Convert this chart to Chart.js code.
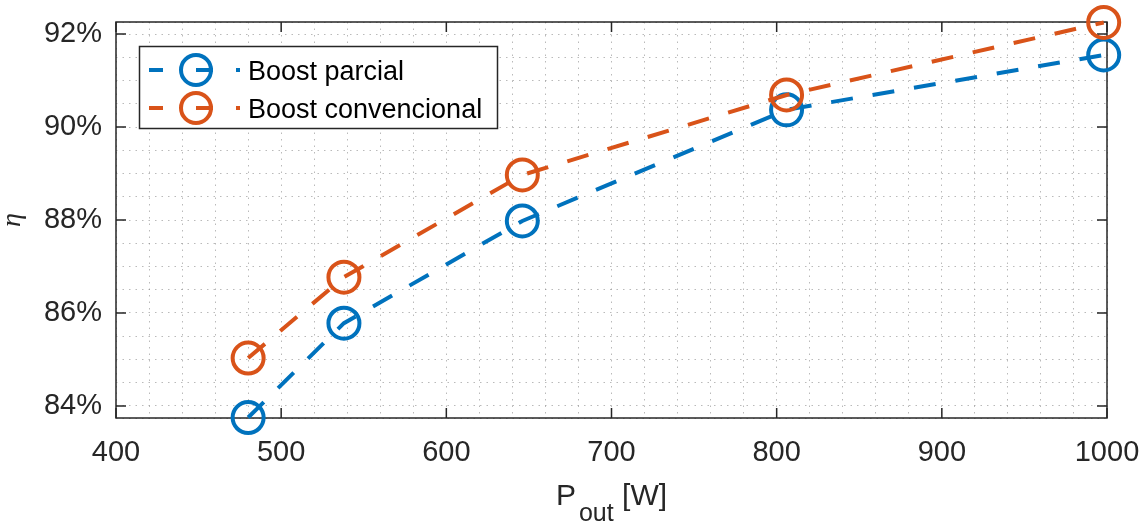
<!DOCTYPE html>
<html><head><meta charset="utf-8">
<script src="https://cdn.jsdelivr.net/npm/chart.js@4/dist/chart.umd.min.js"></script>
<style>html,body{margin:0;padding:0;background:#fff;overflow:hidden}#wrap{width:1141px;height:523px}</style>
</head><body><div id="wrap"><canvas id="c" width="1141" height="523"></canvas></div>
<script>
// ---- data ----
const pOut = [480, 538, 646, 806, 998];
const etaParcial = [83.75, 85.78, 87.98, 90.37, 91.55];
const etaConvencional = [85.03, 86.77, 88.97, 90.69, 92.25];
const seriesNames = ['Boost parcial', 'Boost convencional'];
const seriesColors = ['#0072BD', '#D95319'];
const xTickLabels = [400, 500, 600, 700, 800, 900, 1000];
const yTickLabels = [84, 86, 88, 90, 92];
const xTitleParts = ['P', 'out', '[W]'];
const yTitle = 'η';

const FONT = '"Liberation Sans", Arial, Helvetica, sans-serif';
const TXT = '#262626';
const Y_MIN = 83.74, Y_MAX = 92.26;

function mkData(ys) { return pOut.map((x, i) => ({x: x, y: ys[i]})); }
function near(v, list) { return list.some(t => Math.abs(t - v) < 1e-6); }

// minor grid positions (every 0.5 %)
const yGrid = [Y_MIN];
for (let k = 0; k <= 16; k++) yGrid.push(84 + k * 0.5);
yGrid.push(Y_MAX);

function dsOpts(label, data, color, order) {
  return {
    label: label, data: mkData(data), order: order,
    borderColor: color, borderWidth: 4, borderDash: [22, 20], borderCapStyle: 'butt',
    pointStyle: 'circle', pointRadius: 15.5, pointHoverRadius: 15.5,
    pointBorderColor: color, pointBorderWidth: 4, pointBackgroundColor: 'rgba(0,0,0,0)',
    fill: false, tension: 0, clip: false
  };
}

const decor = {
  id: 'decor',
  beforeDatasetsDraw(chart) {
    const {ctx, chartArea: a, scales: {x, y}} = chart;
    ctx.save();
    ctx.strokeStyle = TXT; ctx.lineWidth = 1.5; ctx.setLineDash([]);
    ctx.beginPath();
    xTickLabels.forEach(v => {
      const px = x.getPixelForValue(v);
      ctx.moveTo(px, a.bottom); ctx.lineTo(px, a.bottom - 10);
      ctx.moveTo(px, a.top); ctx.lineTo(px, a.top + 10);
    });
    yTickLabels.forEach(v => {
      const py = y.getPixelForValue(v);
      ctx.moveTo(a.left, py); ctx.lineTo(a.left + 10, py);
      ctx.moveTo(a.right, py); ctx.lineTo(a.right - 10, py);
    });
    ctx.stroke();
    ctx.strokeRect(a.left, a.top, a.right - a.left, a.bottom - a.top);
    ctx.restore();
  },
  afterDraw(chart) {
    const {ctx, chartArea: a} = chart;
    ctx.save();
    // legend
    const lx = 139.5, ly = 46.5, lw = 358, lh = 82;
    ctx.fillStyle = '#fff'; ctx.fillRect(lx, ly, lw, lh);
    ctx.strokeStyle = TXT; ctx.lineWidth = 1.5; ctx.strokeRect(lx, ly, lw, lh);
    const rows = [70, 108];
    chart.data.datasets.forEach((ds, i) => {
      const cy = rows[i];
      const col = ds.borderColor;
      ctx.strokeStyle = col; ctx.lineWidth = 4; ctx.lineCap = 'butt';
      ctx.beginPath();
      ctx.moveTo(149, cy); ctx.lineTo(163, cy);
      ctx.moveTo(196, cy); ctx.lineTo(213, cy);
      ctx.moveTo(236, cy); ctx.lineTo(240, cy);
      ctx.stroke();
      ctx.beginPath(); ctx.arc(196, cy, 15, 0, Math.PI * 2); ctx.stroke();
      ctx.fillStyle = '#000'; ctx.font = '27px ' + FONT;
      ctx.textAlign = 'left'; ctx.textBaseline = 'alphabetic';
      ctx.fillText(ds.label, 248, cy + 9.5);
    });
    // x title with subscript
    ctx.fillStyle = TXT; ctx.textAlign = 'left'; ctx.textBaseline = 'alphabetic';
    const big = '30px ' + FONT, small = '25px ' + FONT;
    ctx.font = big; const wP = ctx.measureText(xTitleParts[0]).width;
    const wSp = ctx.measureText(' ').width; const wW = ctx.measureText(xTitleParts[2]).width;
    ctx.font = small; const wO = ctx.measureText(xTitleParts[1]).width;
    const total = wP + 3 + wO + wSp + wW;
    let sx = (a.left + a.right) / 2 - total / 2;
    ctx.font = big; ctx.fillText(xTitleParts[0], sx, 505);
    sx += wP + 3;
    ctx.font = small; ctx.fillText(xTitleParts[1], sx, 521);
    sx += wO + wSp;
    ctx.font = big; ctx.fillText(xTitleParts[2], sx, 505);
    // y title
    ctx.translate(13, (a.top + a.bottom) / 2);
    ctx.rotate(-Math.PI / 2);
    ctx.font = 'italic 28px "Liberation Serif", "DejaVu Serif", serif';
    ctx.textAlign = 'center'; ctx.textBaseline = 'middle';
    ctx.fillText(yTitle, 0, 0);
    ctx.restore();
  }
};

const gridCol = 'rgba(140,140,140,0.6)';
new Chart(document.getElementById('c'), {
  type: 'line',
  data: {
    datasets: [
      dsOpts(seriesNames[0], etaParcial, seriesColors[0], 1),
      dsOpts(seriesNames[1], etaConvencional, seriesColors[1], 0)
    ]
  },
  options: {
    responsive: false, animation: false, devicePixelRatio: 1, events: [],
    layout: {padding: {top: 22, right: 34, left: 0, bottom: 0}},
    plugins: {legend: {display: false}, tooltip: {enabled: false}, title: {display: false}},
    scales: {
      x: {
        type: 'linear', min: 400, max: 1000,
        afterFit(s) { s.height = 105; s.paddingLeft = 0; s.paddingRight = 0; },
        ticks: {
          stepSize: 20, autoSkip: false, maxRotation: 0, padding: 18,
          color: TXT, font: {family: FONT, size: 29},
          callback: v => near(v, xTickLabels) ? String(v) : ''
        },
        grid: {color: gridCol, lineWidth: 1, drawTicks: false},
        border: {display: false, dash: [1.5, 5]}
      },
      y: {
        type: 'linear', min: Y_MIN, max: Y_MAX,
        afterBuildTicks(s) { s.ticks = yGrid.map(v => ({value: v})); },
        afterFit(s) { s.width = 116; s.paddingTop = 0; s.paddingBottom = 0; },
        ticks: {
          autoSkip: false, padding: 14,
          color: TXT, font: {family: FONT, size: 29},
          callback: v => near(v, yTickLabels) ? Math.round(v) + '%' : ''
        },
        grid: {color: gridCol, lineWidth: 1, drawTicks: false},
        border: {display: false, dash: [1.5, 5]}
      }
    }
  },
  plugins: [decor]
});
</script></body></html>
